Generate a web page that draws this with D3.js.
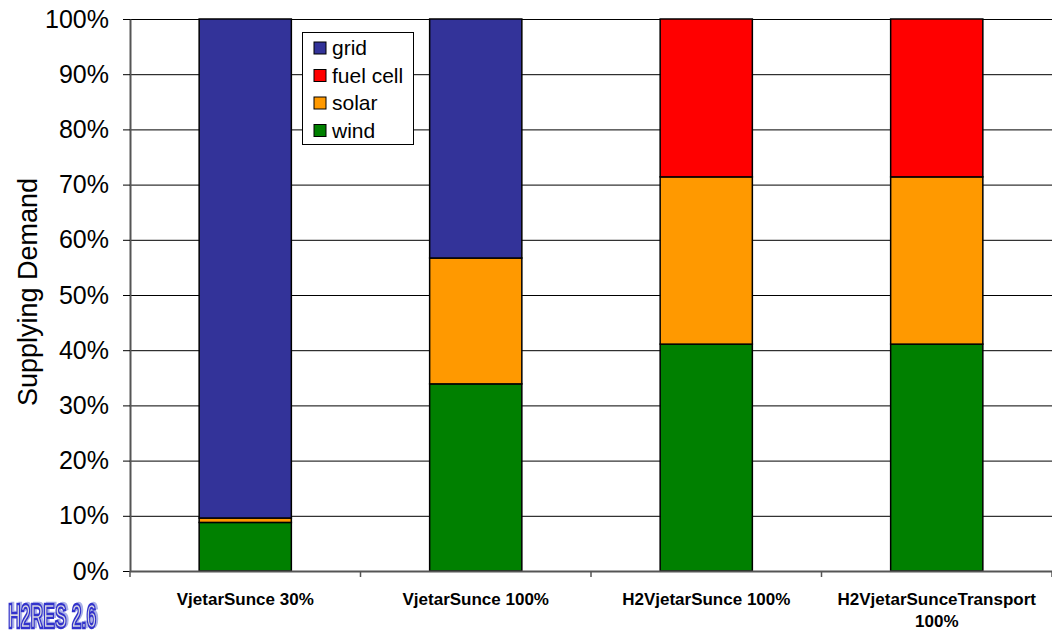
<!DOCTYPE html>
<html>
<head>
<meta charset="utf-8">
<script src="https://cdn.jsdelivr.net/npm/d3@7"></script>
<style>
  body { margin: 0; background: #fff; }
  svg { display: block; font-family: Arial, "Liberation Sans", sans-serif; }
</style>
</head>
<body>
<svg id="chart"></svg>
<script>
(function(){
	// Data
	const categories = ["VjetarSunce 30%", "VjetarSunce 100%", "H2VjetarSunce 100%", "H2VjetarSunceTransport 100%"];
	const categoryLines = [["VjetarSunce 30%"], ["VjetarSunce 100%"], ["H2VjetarSunce 100%"], ["H2VjetarSunceTransport", "100%"]];
	const series = ["wind", "solar", "fuel cell", "grid"];
	const wind     = [0.088, 0.339, 0.411, 0.411];
	const solar    = [0.008, 0.228, 0.303, 0.303];
	const fuelCell = [0.000, 0.000, 0.286, 0.286];
	const grid     = [0.904, 0.433, 0.000, 0.000];
	const yTicks = [0, 0.1, 0.2, 0.3, 0.4, 0.5, 0.6, 0.7, 0.8, 0.9, 1];
	const legendOrder = ["grid", "fuel cell", "solar", "wind"];

	const width = 1052, height = 636;
	const margin = {top: 19, right: 0, bottom: 65, left: 130};
	const innerW = width - margin.left - margin.right;
	const innerH = height - margin.top - margin.bottom;

	const color = d3.scaleOrdinal()
		.domain(series)
		.range(["#008000", "#FF9900", "#FF0000", "#333399"]);

	const rows = categories.map((c, i) => ({
		cat: c, "wind": wind[i], "solar": solar[i], "fuel cell": fuelCell[i], "grid": grid[i]
	}));
	const stacked = d3.stack().keys(series)(rows);

	const x = d3.scaleBand().domain(categories).range([0, innerW]).paddingInner(0).paddingOuter(0);
	const y = d3.scaleLinear().domain([0, 1]).range([innerH, 0]);

	const svg = d3.select("#chart").attr("width", width).attr("height", height);

	// shadow filter for logo
	const filter = svg.append("defs").append("filter")
		.attr("id", "logoShadow")
		.attr("x", "-10%").attr("y", "-10%").attr("width", "130%").attr("height", "130%");
	filter.append("feOffset").attr("in", "SourceAlpha").attr("dx", 5).attr("dy", -1).attr("result", "off");
	filter.append("feFlood").attr("flood-color", "#aab0e8").attr("result", "col");
	filter.append("feComposite").attr("in", "col").attr("in2", "off").attr("operator", "in").attr("result", "shadow");
	const merge = filter.append("feMerge");
	merge.append("feMergeNode").attr("in", "shadow");
	merge.append("feMergeNode").attr("in", "SourceGraphic");

	const g = svg.append("g").attr("transform", `translate(${margin.left},${margin.top})`);

	// gridlines
	g.append("g")
		.selectAll("line")
		.data(yTicks)
		.join("line")
			.attr("x1", 0).attr("x2", innerW)
			.attr("y1", d => y(d) + 0.5).attr("y2", d => y(d) + 0.5)
			.attr("stroke", "#000").attr("stroke-width", 1);

	// bars
	const barW = x.bandwidth() * 0.4;
	g.append("g")
		.selectAll("g")
		.data(stacked)
		.join("g")
			.attr("fill", d => color(d.key))
		.selectAll("rect")
		.data(d => d.filter(v => v[1] - v[0] > 0))
		.join("rect")
			.attr("x", d => x(d.data.cat) + (x.bandwidth() - barW) / 2)
			.attr("y", d => y(d[1]))
			.attr("width", barW)
			.attr("height", d => y(d[0]) - y(d[1]))
			.attr("stroke", "#000")
			.attr("stroke-width", 1.5);

	// y axis
	const yAxis = g.append("g")
		.call(d3.axisLeft(y).tickValues(yTicks).tickFormat(d3.format(".0%")).tickSize(7).tickSizeOuter(0));
	yAxis.select(".domain").attr("stroke", "#555").attr("stroke-width", 2);
	yAxis.selectAll(".tick line").attr("stroke", "#000");
	yAxis.selectAll(".tick text")
		.attr("x", -21)
		.attr("font-size", 25)
		.attr("font-family", "Arial, 'Liberation Sans', sans-serif")
		.attr("fill", "#000");

	// x axis
	const xAxis = g.append("g")
		.attr("transform", `translate(0,${innerH})`);
	xAxis.append("line")
		.attr("x1", 0).attr("x2", innerW).attr("y1", 0.5).attr("y2", 0.5)
		.attr("stroke", "#555").attr("stroke-width", 2);
	const bounds = categories.map(c => x(c)).concat([innerW]);
	xAxis.selectAll("line.tk")
		.data(bounds)
		.join("line")
			.attr("class", "tk")
			.attr("x1", d => d).attr("x2", d => d)
			.attr("y1", 0).attr("y2", 6)
			.attr("stroke", "#555").attr("stroke-width", 1.5);
	xAxis.selectAll("text")
		.data(categories)
		.join("text")
			.attr("text-anchor", "middle")
			.attr("font-size", 17)
			.attr("font-weight", "bold")
			.attr("transform", d => `translate(${x(d) + x.bandwidth() / 2},${34})`)
			.each(function(d, i) {
				d3.select(this).selectAll("tspan")
					.data(categoryLines[i])
					.join("tspan")
						.attr("x", 0)
						.attr("dy", (t, j) => j === 0 ? 0 : 22)
						.text(t => t);
			});

	// y label
	svg.append("text")
		.attr("transform", `translate(37,292) rotate(-90)`)
		.attr("text-anchor", "middle")
		.attr("font-size", 27)
		.text("Supplying Demand");

	// legend
	const legend = svg.append("g").attr("transform", "translate(302,32)");
	legend.append("rect")
		.attr("x", 0.5).attr("y", 0.5).attr("width", 111).attr("height", 112)
		.attr("fill", "#fff").attr("stroke", "#000");
	const item = legend.selectAll("g.item")
		.data(legendOrder)
		.join("g")
			.attr("class", "item")
			.attr("transform", (d, i) => `translate(12,${10 + i * 27.5})`);
	item.append("rect")
		.attr("width", 12).attr("height", 12)
		.attr("fill", d => color(d))
		.attr("stroke", "#000");
	item.append("text")
		.attr("x", 18).attr("y", 13)
		.attr("font-size", 21)
		.text(d => d);

	// logo
	svg.append("g").attr("transform", "translate(8,628) scale(0.49,1)")
		.append("text")
		.attr("font-size", 36).attr("font-weight", "bold")
		.attr("fill", "#d8d8e0").attr("stroke", "#3333cc").attr("stroke-width", 2.4)
		.attr("filter", "url(#logoShadow)")
		.text("H2RES 2.6");
}());
</script>
</body>
</html>
